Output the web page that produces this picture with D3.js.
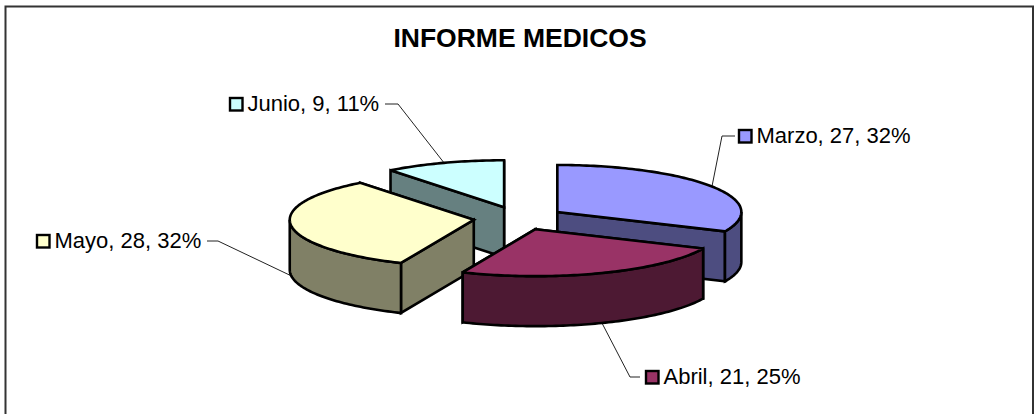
<!DOCTYPE html>
<html>
<head>
<meta charset="utf-8">
<script src="https://cdn.jsdelivr.net/npm/d3@7"></script>
<style>
  html, body { margin: 0; padding: 0; background: #fff; }
  svg { display: block; }
  text { font-family: "Liberation Sans", Arial, sans-serif; fill: #000; }
</style>
</head>
<body>
<svg width="1034" height="414"></svg>
<script>
var title = "INFORME MEDICOS";
var months = ["Marzo", "Abril", "Mayo", "Junio"];
var counts = [27, 21, 28, 9];
var percents = ["32%", "25%", "32%", "11%"];
var topColors = ["#9999ff", "#993366", "#ffffcc", "#ccffff"];
var sideColors = ["#4d4d80", "#4d1933", "#808066", "#668080"];

// Position of each label: swatch left edge and text baseline.
var labelX = [738, 645, 36, 229];
var labelY = [143, 384, 248, 111];
// Elbow of each leader line, and where it stops next to the label.
var elbowX = [722, 630, 218, 398];
var elbowY = [136, 377, 241, 104];
var leaderEndX = [735, 640, 207, 385];

WIDTH = 1034;
HEIGHT = 414;
CX = 519;
CY = 218.3;
RX = 184;
RY = 47;
DEPTH = 50;
EXPLODE = 0.248;

var svg = d3.select("svg");

// Chart frame, open at the bottom like the reference.
svg.append("path")
  .attr("d", "M5.5,414V6.5H1033V414")
  .attr("fill", "none")
  .attr("stroke", "#333")
  .attr("stroke-width", 2);

svg.append("text")
  .attr("x", 520)
  .attr("y", 46.5)
  .attr("text-anchor", "middle")
  .attr("font-weight", "bold")
  .attr("font-size", 26.5)
  .text(title);

var arcs = d3.pie().sort(null)(counts);

// Angles run clockwise from 12 o'clock, the ellipse is the tilted pie.
var sx = d3.scaleLinear().domain([-1, 1]).range([-RX, RX]);
var sy = d3.scaleLinear().domain([-1, 1]).range([RY, -RY]);
var line = d3.line();

function rim (o, a, drop) {
  return [o[0] + sx(Math.sin(a)), o[1] + sy(Math.cos(a)) + (drop || 0)];
}

function arcPoints (o, a0, a1, drop) {
  var n = Math.max(2, Math.ceil((a1 - a0) / 0.02));
  return d3.range(n + 1).map(function(i) {
    return rim(o, a0 + (a1 - a0) * i / n, drop);
  });
}

function apex (d) {
  var mid = (d.startAngle + d.endAngle) / 2;
  return [CX + EXPLODE * sx(Math.sin(mid)), CY + EXPLODE * sy(Math.cos(mid))];
}

function face (g, pts, fill) {
  g.append("path")
    .attr("d", line(pts) + "Z")
    .attr("fill", fill)
    .attr("stroke", "#000")
    .attr("stroke-width", 2.6)
    .attr("stroke-linejoin", "miter")
    .attr("stroke-miterlimit", 2.5);
}

// Leaders sit under the pie, their ends are hidden by the rim.
arcs.forEach(function(d, i) {
  var mid = (d.startAngle + d.endAngle) / 2;
  var front = Math.cos(mid) < 0 || (Math.sin(mid) < 0 && Math.cos(mid) < 0.2);
  var start = rim(apex(d), mid, front ? DEPTH : 0);
  svg.append("path")
    .attr("d", line([start, [elbowX[i], elbowY[i]], [leaderEndX[i], elbowY[i]]]))
    .attr("fill", "none")
    .attr("stroke", "#222")
    .attr("stroke-width", 1);
});

// Back slices first so the front ones overlap them.
[3, 0, 2, 1].forEach(function(i) {
  var d = arcs[i];
  var o = apex(d);
  var g = svg.append("g");

  // Cut walls, the one further back goes first.
  var cuts = [d.startAngle, d.endAngle].sort(function(a, b) {
    return rim(o, a)[1] - rim(o, b)[1];
  });
  cuts.forEach(function(a) {
    var r = rim(o, a);
    face(g, [o, r, [r[0], r[1] + DEPTH], [o[0], o[1] + DEPTH]], sideColors[i]);
  });

  // Outer wall, only the part that faces the viewer.
  var a0 = Math.max(d.startAngle, Math.PI / 2);
  var a1 = Math.min(d.endAngle, Math.PI * 1.5);
  if (a1 > a0) {
    face(g, arcPoints(o, a0, a1, 0).concat(arcPoints(o, a0, a1, DEPTH).reverse()), sideColors[i]);
  }

  // Top surface.
  face(g, [o].concat(arcPoints(o, d.startAngle, d.endAngle, 0)), topColors[i]);
});

// Data labels with their legend key.
months.forEach(function(m, i) {
  svg.append("rect")
    .attr("x", labelX[i] + 1)
    .attr("y", labelY[i] - 13)
    .attr("width", 12.5)
    .attr("height", 12.5)
    .attr("fill", topColors[i])
    .attr("stroke", "#000")
    .attr("stroke-width", 2.4);
  svg.append("text")
    .attr("x", labelX[i] + 18.5)
    .attr("y", labelY[i])
    .attr("font-size", 22)
    .text(m + ", " + counts[i] + ", " + percents[i]);
});
</script>
</body>
</html>
